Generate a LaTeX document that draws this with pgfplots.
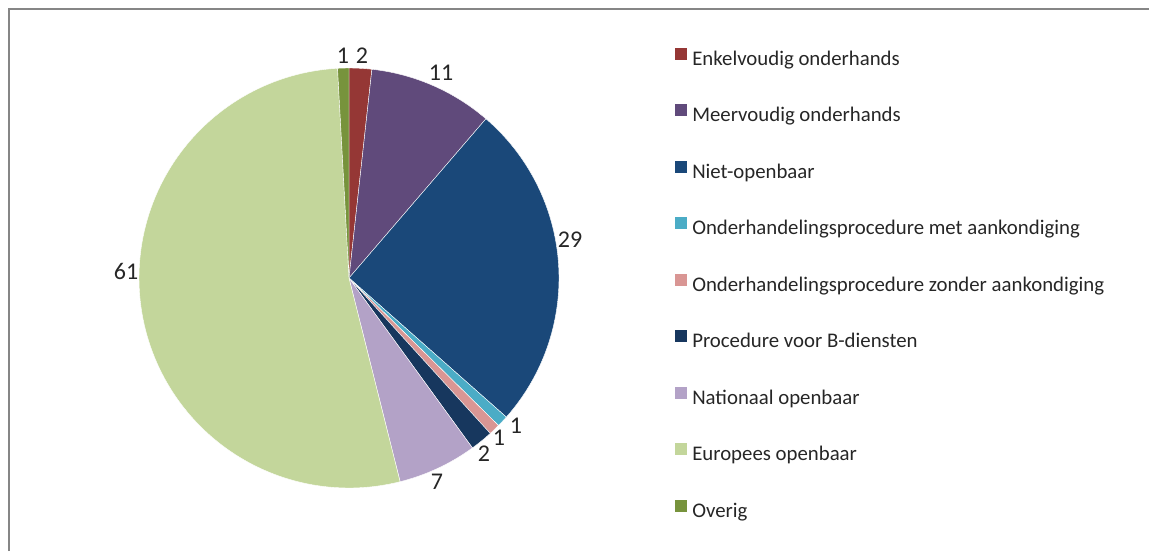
\documentclass[border=0pt]{standalone}
\usepackage{pgfplots}
\pgfplotsset{compat=1.18}
\usepackage{fontspec}
\setmainfont{Carlito}
\definecolor{cEnk}{HTML}{953735}
\definecolor{cMeer}{HTML}{604A7B}
\definecolor{cNiet}{HTML}{1A4879}
\definecolor{cMet}{HTML}{4BACC6}
\definecolor{cZonder}{HTML}{D99694}
\definecolor{cB}{HTML}{17375E}
\definecolor{cNat}{HTML}{B3A2C7}
\definecolor{cEur}{HTML}{C3D69B}
\definecolor{cOv}{HTML}{77933C}
\definecolor{frame}{HTML}{868686}
\definecolor{txt}{HTML}{262626}
% values: Enk 2, Meer 11, Niet 29, Met 1, Zonder 1, B 2, Nat 7, Eur 61, Overig 1 ; total 115
\begin{document}
\begin{tikzpicture}
\begin{axis}[name=ax, scale only axis, width=861.75pt, height=413.25pt,
  xmin=0, xmax=1149, ymin=0, ymax=551, y dir=reverse, hide axis, clip=false,
  legend cell align=left,
  legend image code/.code={\fill[#1, draw=none] (0pt,0.75pt) rectangle (9pt,9.75pt);},
  legend style={draw=none, fill=none, at={(axis cs:675,47.5)}, anchor=north west,
    inner sep=0pt, row sep=25.1pt, text=txt,
    font=\fontsize{15.6}{18}\selectfont,
    nodes={inner sep=0pt, text height=11pt, text depth=4pt},
    /tikz/every odd column/.append style={column sep=3.75pt}},
  every axis plot/.append style={draw=white, line width=0.3pt, variable=\t}]
\coordinate (A) at (axis cs:0,0);
\coordinate (B) at (axis cs:1149,551);
\draw[frame, line width=1.5pt] (axis cs:8.5,551) -- (axis cs:8.5,8.8) -- (axis cs:1149,8.8);
\addplot[fill=cEnk, domain={90-360*2/115}:{90-360*0/115}, samples=10] ({349+210*cos(\t)},{278-210*sin(\t)}) -- (axis cs:349,278) -- cycle;
\addlegendentry{Enkelvoudig onderhands}
\addplot[fill=cMeer, domain={90-360*13/115}:{90-360*2/115}, samples=30] ({349+210*cos(\t)},{278-210*sin(\t)}) -- (axis cs:349,278) -- cycle;
\addlegendentry{Meervoudig onderhands}
\addplot[fill=cNiet, domain={90-360*42/115}:{90-360*13/115}, samples=60] ({349+210*cos(\t)},{278-210*sin(\t)}) -- (axis cs:349,278) -- cycle;
\addlegendentry{Niet-openbaar}
\addplot[fill=cMet, domain={90-360*43/115}:{90-360*42/115}, samples=6] ({349+210*cos(\t)},{278-210*sin(\t)}) -- (axis cs:349,278) -- cycle;
\addlegendentry{Onderhandelingsprocedure met aankondiging}
\addplot[fill=cZonder, domain={90-360*44/115}:{90-360*43/115}, samples=6] ({349+210*cos(\t)},{278-210*sin(\t)}) -- (axis cs:349,278) -- cycle;
\addlegendentry{Onderhandelingsprocedure zonder aankondiging}
\addplot[fill=cB, domain={90-360*46/115}:{90-360*44/115}, samples=10] ({349+210*cos(\t)},{278-210*sin(\t)}) -- (axis cs:349,278) -- cycle;
\addlegendentry{Procedure voor B-diensten}
\addplot[fill=cNat, domain={90-360*53/115}:{90-360*46/115}, samples=20] ({349+210*cos(\t)},{278-210*sin(\t)}) -- (axis cs:349,278) -- cycle;
\addlegendentry{Nationaal openbaar}
\addplot[fill=cEur, domain={90-360*114/115}:{90-360*53/115}, samples=120] ({349+210*cos(\t)},{278-210*sin(\t)}) -- (axis cs:349,278) -- cycle;
\addlegendentry{Europees openbaar}
\addplot[fill=cOv, domain={90-360*115/115}:{90-360*114/115}, samples=6] ({349+210*cos(\t)},{278-210*sin(\t)}) -- (axis cs:349,278) -- cycle;
\addlegendentry{Overig}
\begin{scope}[every node/.style={text=txt, font=\fontsize{18}{20}\selectfont, inner sep=0pt}]
\node at (axis cs:343,56) {1};
\node at (axis cs:362,56) {2};
\node at (axis cs:441,73) {11};
\node at (axis cs:570,240) {29};
\node at (axis cs:516,426) {1};
\node at (axis cs:499,438) {1};
\node at (axis cs:484,454) {2};
\node at (axis cs:437,482) {7};
\node at (axis cs:126,271) {61};
\end{scope}
\end{axis}
\pgfresetboundingbox
\path (A) rectangle (B);
\end{tikzpicture}
\end{document}
